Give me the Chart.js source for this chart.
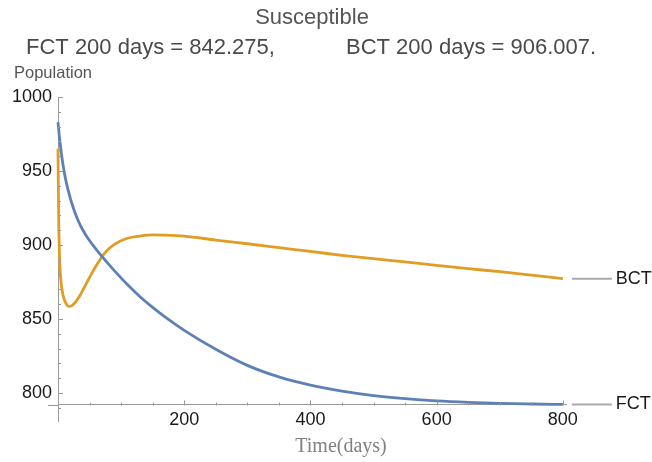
<!DOCTYPE html>
<html>
<head>
<meta charset="utf-8">
<script src="https://cdn.jsdelivr.net/npm/chart.js@4.4.1/dist/chart.umd.min.js"></script>
<style>
  html,body{margin:0;padding:0;background:#fff;}
  #wrap{width:652px;height:462px;}
</style>
</head>
<body>
<div id="wrap"><canvas id="chart" width="652" height="462"></canvas></div>
<script>
// === data ===
const days = [0,1,2,3,5,8,12,17,22,28,35,45,55,65,75,90,110,130,150,170,200,250,300,350,400,450,500,550,600,650,700,750,800];
const fctValues = [983,978.5,974,970,963,954,944.5,935.5,928,920.5,913.5,906,900,894.6,889.6,882.3,873.2,865,857.8,851.2,842.3,829.5,818.6,810.8,805.3,801.2,798.2,796.1,794.6,793.6,792.9,792.5,792.2];
const bctValues = [965,920,898,886,874,866,861,858.5,859,861.5,866,874,882,889,895,900.5,904.5,906,906.8,906.7,906,903.3,900.8,898.2,895.6,893,890.7,888.5,886.2,884,881.9,879.6,877.2];
const seriesNames = ["FCT","BCT"];
const xTickLabels = [200,400,600,800];
const yTickLabels = [800,850,900,950,1000];
const titleText = "Susceptible";
const subtitleParts = ["FCT 200 days = 842.275,","BCT 200 days = 906.007."];

const blue = "#5E81B5", orange = "#E19C24";
const sans = "'Liberation Sans', Arial, sans-serif";

function pts(vals){ return days.map((d,i)=>({x:d,y:vals[i]})); }

// mathematica-ish extras: inward ticks, axis stub, end labels, titles
const decor = {
  id:"decor",
  afterDraw(c){
    const ctx=c.ctx, xs=c.scales.x, ys=c.scales.y;
    const x0=xs.getPixelForValue(0), y0=Math.round(ys.getPixelForValue(792))+0.5;
    ctx.save();
    ctx.strokeStyle="#999"; ctx.lineWidth=1;
    ctx.beginPath(); ctx.moveTo(x0-10,y0); ctx.lineTo(x0,y0); ctx.stroke();
    for(let v=790; v<=1000; v+=10){
      const p=Math.round(ys.getPixelForValue(v))+0.5;
      const len = v%50===0 ? 5 : 3;
      ctx.beginPath(); ctx.moveTo(x0,p); ctx.lineTo(x0+len,p); ctx.stroke();
    }
    for(let v=50; v<=800; v+=50){
      const p=Math.round(xs.getPixelForValue(v))+0.5;
      const len = v%200===0 ? 5 : 3;
      ctx.beginPath(); ctx.moveTo(p,y0); ctx.lineTo(p,y0-len); ctx.stroke();
    }
    // end labels
    c.data.datasets.forEach((ds,i)=>{
      const m=c.getDatasetMeta(i); const last=m.data[m.data.length-1];
      ctx.strokeStyle="#aaa"; ctx.lineWidth=2;
      ctx.beginPath(); ctx.moveTo(last.x+9,last.y); ctx.lineTo(last.x+49,last.y); ctx.stroke();
      ctx.fillStyle="#1a1a1a"; ctx.font="18px "+sans; ctx.textBaseline="middle"; ctx.textAlign="left";
      ctx.fillText(ds.label,last.x+53,last.y);
    });
    // titles
    ctx.textBaseline="middle";
    ctx.fillStyle="#555"; ctx.font="22px "+sans; ctx.textAlign="center";
    ctx.fillText(titleText,312,18);
    ctx.fillStyle="#4a4a4a"; ctx.textAlign="left";
    ctx.fillText(subtitleParts[0],26,48);
    ctx.fillText(subtitleParts[1],346,48);
    ctx.fillStyle="#555"; ctx.font="16.5px "+sans;
    ctx.fillText("Population",14,73);
    ctx.fillStyle="#808080"; ctx.font="20px 'Liberation Serif', 'Times New Roman', serif"; ctx.textAlign="center";
    ctx.fillText("Time(days)",341,447);
    ctx.restore();
  }
};

new Chart(document.getElementById("chart"),{
  type:"line",
  data:{datasets:[
    {label:seriesNames[0],data:pts(fctValues),borderColor:blue,borderWidth:2.8,pointRadius:0,cubicInterpolationMode:"monotone",fill:false,clip:false},
    {label:seriesNames[1],data:pts(bctValues),borderColor:orange,borderWidth:2.8,pointRadius:0,cubicInterpolationMode:"monotone",fill:false,clip:false}
  ]},
  options:{
    responsive:false,animation:false,
    layout:{padding:{left:0,right:86,top:97,bottom:41}},
    plugins:{legend:{display:false},tooltip:{enabled:false},title:{display:false}},
    scales:{
      x:{type:"linear",min:0,max:805,position:{y:792},
        grid:{display:true,drawOnChartArea:false,drawTicks:true,tickLength:3,tickColor:"rgba(0,0,0,0)"},
        border:{display:true,color:"#999",width:1},
        afterBuildTicks:s=>{s.ticks=xTickLabels.map(v=>({value:v}));},
        ticks:{padding:2,color:"#1a1a1a",font:{size:18,family:sans},maxRotation:0,callback:v=>String(v)}},
      y:{type:"linear",min:781,max:1000,position:"left",
        grid:{display:false,drawTicks:false},
        border:{display:true,color:"#999",width:1},
        afterFit:s=>{s.width=58;},
        afterBuildTicks:s=>{s.ticks=yTickLabels.map(v=>({value:v}));},
        ticks:{padding:6,color:"#1a1a1a",font:{size:18,family:sans},callback:v=>String(v)}}
    }
  },
  plugins:[decor]
});
</script>
</body>
</html>
